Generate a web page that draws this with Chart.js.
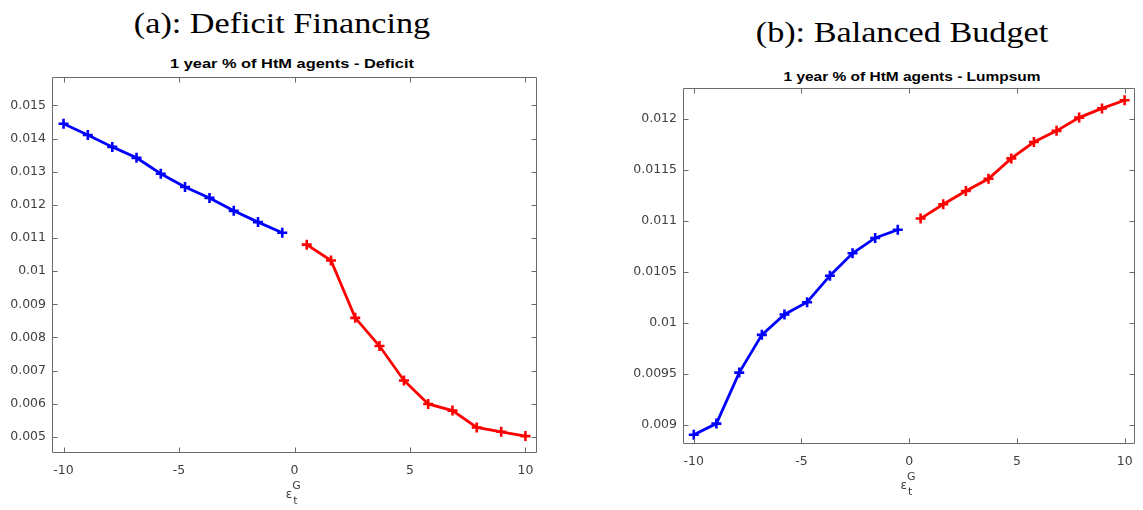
<!DOCTYPE html>
<html>
<head>
<meta charset="utf-8">
<script src="https://cdn.jsdelivr.net/npm/chart.js@4.4.1/dist/chart.umd.min.js"></script>
<style>
  html, body { margin: 0; padding: 0; background: #fff; }
  body { width: 1143px; height: 510px; position: relative; overflow: hidden; }
  canvas { position: absolute; top: 0; }
  .title {
    position: absolute; white-space: nowrap; line-height: 1; color: #000;
    font-family: 'Liberation Serif', 'Times New Roman', serif; font-size: 30px;
  }
  .sub {
    position: absolute; white-space: nowrap; line-height: 1; color: #000;
    font-family: 'Liberation Sans', Arial, sans-serif; font-weight: bold; font-size: 13px;
  }
</style>
</head>
<body>
<div class="title" style="left:282px; top:8px; transform: translateX(-50%) scaleX(1.14)">(a): Deficit Financing</div>
<div class="title" style="left:902px; top:17px; transform: translateX(-50%) scaleX(1.14)">(b): Balanced Budget</div>
<div class="sub" style="left:292px; top:57px; transform: translateX(-50%) scaleX(1.26)">1 year % of HtM agents - Deficit</div>
<div class="sub" style="left:912px; top:70px; transform: translateX(-50%) scaleX(1.19)">1 year % of HtM agents - Lumpsum</div>

<canvas id="chartDeficit" width="560" height="510" style="left:0"></canvas>
<canvas id="chartLumpsum" width="583" height="510" style="left:560px"></canvas>

<script>
// shock sizes, negative half (blue) and positive half (red)
const xNeg = [-10, -8.95, -7.89, -6.84, -5.79, -4.74, -3.68, -2.63, -1.58, -0.53]
const xPos = [0.53, 1.58, 2.63, 3.68, 4.74, 5.79, 6.84, 7.89, 8.95, 10]

// 1 year share of HtM agents
const deficitNeg = [0.01445, 0.01411, 0.01375, 0.01342, 0.01294, 0.01254, 0.01221, 0.01182, 0.01148, 0.01116]
const deficitPos = [0.0108, 0.01032, 0.00859, 0.00774, 0.0067, 0.00599, 0.00579, 0.00528, 0.00515, 0.00502]
const lumpNeg = [0.0089, 0.00901, 0.00951, 0.00988, 0.01008, 0.0102, 0.01046, 0.01068, 0.01083, 0.01091]
const lumpPos = [0.01102, 0.01116, 0.01129, 0.01141, 0.01161, 0.01177, 0.01188, 0.01201, 0.0121, 0.01218]

const xTicks = [-10, -5, 0, 5, 10]
const yTicksDeficit = [0.005, 0.006, 0.007, 0.008, 0.009, 0.01, 0.011, 0.012, 0.013, 0.014, 0.015]
const yTicksLump = [0.009, 0.0095, 0.01, 0.0105, 0.011, 0.0115, 0.012]

const TICK_FONT = { family: "'DejaVu Sans', sans-serif", size: 12.5 }
const TICK_COLOR = '#404040'
const BOX_COLOR = '#6a6a6a'

function pts(xs, ys) {
  return xs.map((x, i) => ({ x: x, y: ys[i] }))
}

function series(xs, ys, color) {
  return {
    data: pts(xs, ys),
    borderColor: color,
    backgroundColor: color,
    borderWidth: 2.8,
    pointStyle: 'cross',
    pointRadius: 5,
    pointBorderWidth: 2.6,
    pointHoverRadius: 5,
    tension: 0
  }
}

// matlab-style box with inward ticks on all sides, plus the epsilon axis label
const boxPlugin = {
  id: 'box',
  afterDraw(chart) {
    const { ctx, chartArea: a, scales } = chart
    const opts = chart.options.plugins.box
    const L = Math.round(a.left) + 0.5
    const R = Math.round(a.right) - 0.5
    const T = Math.round(a.top) + 0.5
    const B = Math.round(a.bottom) - 0.5
    ctx.save()
    ctx.strokeStyle = BOX_COLOR
    ctx.lineWidth = 1
    ctx.beginPath()
    ctx.rect(L, T, R - L, B - T)
    for (const v of opts.xTicks) {
      const px = Math.round(scales.x.getPixelForValue(v)) + 0.5
      ctx.moveTo(px, B); ctx.lineTo(px, B - 5)
      ctx.moveTo(px, T); ctx.lineTo(px, T + 5)
    }
    for (const v of opts.yTicks) {
      const py = Math.round(scales.y.getPixelForValue(v)) + 0.5
      ctx.moveTo(L, py); ctx.lineTo(L + 5, py)
      ctx.moveTo(R, py); ctx.lineTo(R - 5, py)
    }
    ctx.stroke()

    // x label: epsilon with subscript t and superscript G
    const cx = scales.x.getPixelForValue(0)
    const by = a.bottom
    ctx.fillStyle = TICK_COLOR
    ctx.textAlign = 'center'
    ctx.textBaseline = 'middle'
    ctx.font = "12px 'DejaVu Sans', sans-serif"
    ctx.fillText('\u03b5', cx - 5.5, by + 42)
    ctx.font = "11px 'DejaVu Sans', sans-serif"
    ctx.fillText('G', cx + 2, by + 33)
    ctx.fillText('t', cx + 1, by + 48)
    ctx.restore()
  }
}

function makeChart(canvasId, cfg) {
  return new Chart(document.getElementById(canvasId), {
    type: 'line',
    data: {
      datasets: [
        series(xNeg, cfg.neg, '#0000ff'),
        series(xPos, cfg.pos, '#ff0000')
      ]
    },
    plugins: [boxPlugin],
    options: {
      responsive: false,
      animation: false,
      devicePixelRatio: 1,
      layout: { padding: { top: cfg.top, right: cfg.right, left: 0, bottom: 0 } },
      plugins: {
        legend: { display: false },
        tooltip: { enabled: false },
        title: { display: false },
        box: { xTicks: xTicks, yTicks: cfg.yTicks }
      },
      scales: {
        x: {
          type: 'linear',
          min: -10.5,
          max: 10.5,
          grid: { display: false, drawTicks: false },
          border: { display: false },
          afterBuildTicks: s => { s.ticks = xTicks.map(v => ({ value: v })) },
          afterFit: s => { s.height = cfg.xAxisHeight },
          ticks: {
            font: TICK_FONT,
            color: TICK_COLOR,
            padding: 10,
            maxRotation: 0,
            callback: v => String(v)
          }
        },
        y: {
          type: 'linear',
          min: cfg.yMin,
          max: cfg.yMax,
          grid: { display: false, drawTicks: false },
          border: { display: false },
          afterBuildTicks: s => { s.ticks = cfg.yTicks.map(v => ({ value: v })) },
          afterFit: s => { s.width = cfg.yAxisWidth },
          ticks: {
            font: TICK_FONT,
            color: TICK_COLOR,
            padding: 6,
            callback: v => String(v)
          }
        }
      }
    }
  })
}

makeChart('chartDeficit', {
  neg: deficitNeg,
  pos: deficitPos,
  yTicks: yTicksDeficit,
  yMin: 0.00451,
  yMax: 0.01586,
  top: 77,
  right: 23,
  yAxisWidth: 52,
  xAxisHeight: 57
})

makeChart('chartLumpsum', {
  neg: lumpNeg,
  pos: lumpPos,
  yTicks: yTicksLump,
  yMin: 0.00881,
  yMax: 0.0123,
  top: 88,
  right: 0,
  yAxisWidth: 123,
  xAxisHeight: 66
})
</script>
</body>
</html>
